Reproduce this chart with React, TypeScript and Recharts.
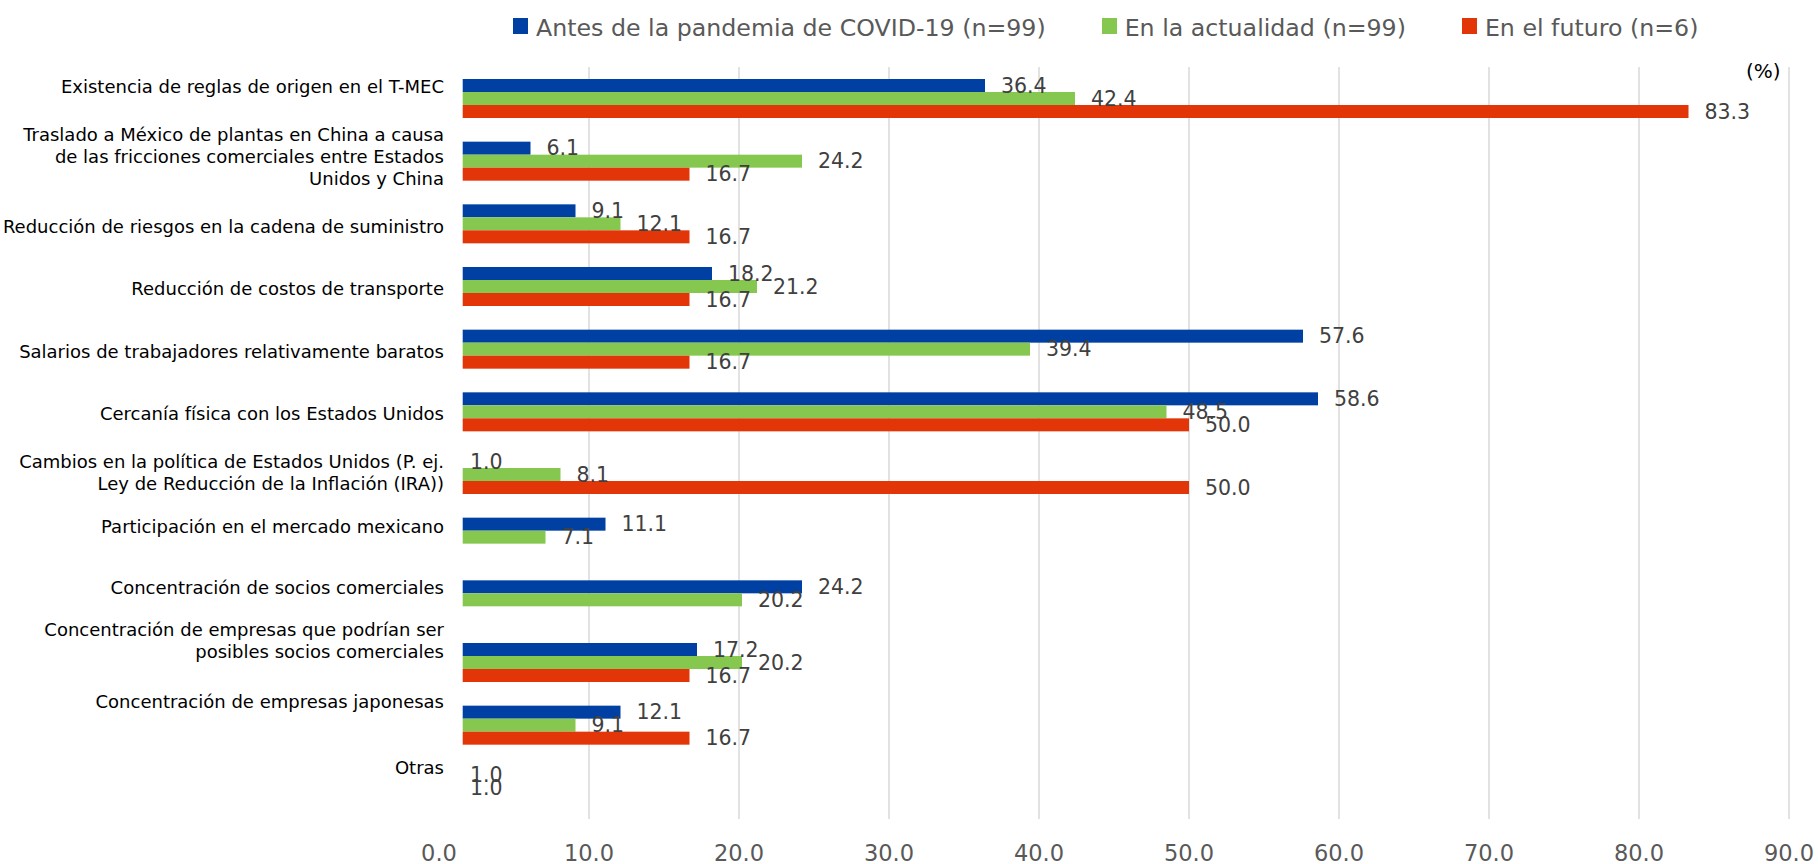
import React from 'react';
import { BarChart, Bar, XAxis, YAxis, CartesianGrid, LabelList, Legend } from 'recharts';

const FONT = '"DejaVu Sans", Verdana, sans-serif';

const categories = [
  'Existencia de reglas de origen en el T-MEC',
  'Traslado a México de plantas en China a causa\nde las fricciones comerciales entre Estados\nUnidos y China',
  'Reducción de riesgos en la cadena de suministro',
  'Reducción de costos de transporte',
  'Salarios de trabajadores relativamente baratos',
  'Cercanía física con los Estados Unidos',
  'Cambios en la política de Estados Unidos (P. ej.\nLey de Reducción de la Inflación (IRA))',
  'Participación en el mercado mexicano',
  'Concentración de socios comerciales',
  'Concentración de empresas que podrían ser\nposibles socios comerciales',
  'Concentración de empresas japonesas',
  'Otras',
];

const beforeCovid: (number | null)[] = [36.4, 6.1, 9.1, 18.2, 57.6, 58.6, 1.0, 11.1, 24.2, 17.2, 12.1, 1.0];
const currentValues: (number | null)[] = [42.4, 24.2, 12.1, 21.2, 39.4, 48.5, 8.1, 7.1, 20.2, 20.2, 9.1, 1.0];
const futureValues: (number | null)[] = [83.3, 16.7, 16.7, 16.7, 16.7, 50.0, 50.0, null, null, 16.7, 16.7, null];

const seriesNames = [
  'Antes de la pandemia de COVID-19 (n=99)',
  'En la actualidad (n=99)',
  'En el futuro (n=6)',
];
const seriesColors = ['#0040A2', '#86C84F', '#E23508'];

const xTicks = [0, 10, 20, 30, 40, 50, 60, 70, 80, 90];
const gridValues = [10, 20, 30, 40, 50, 60, 70, 80, 90];

// vertical shift (px) of each category label relative to its band centre
const LABEL_SHIFT = [-12, -4.5, 3, 2, 2.5, 2, -1.5, -11, -12, -22, -24, -20];
// bars are hidden below this value (visible start of bars in the reference)
const CLIP_VALUE = 1.58;

const data = categories.map((name, i) => ({
  name,
  before: beforeCovid[i],
  current: currentValues[i],
  future: futureValues[i],
}));

const fmt = (v: any) => (v === null || v === undefined || v === '' ? '' : Number(v).toFixed(1));

const makeShape = (key: string) => (props: any) => {
  const { x, y, width, height, fill, payload } = props;
  const v = payload ? payload[key] : null;
  if (v === null || v === undefined || !width) return <g />;
  const ppu = width / v;
  const start = x + ppu * CLIP_VALUE;
  const end = x + width;
  if (end <= start) return <g />;
  return <rect x={start} y={y} width={end - start} height={height} fill={fill} />;
};

const CategoryTick = (props: any) => {
  const { x, y, payload } = props;
  const idx = typeof props.index === 'number' ? props.index : categories.indexOf(payload.value);
  const lines = String(payload.value).split('\n');
  const lh = 21.7;
  const center = y + (LABEL_SHIFT[idx] ?? 0);
  return (
    <text x={x + 5} y={center} textAnchor="end" fontSize={18} fill="#000" fontFamily={FONT}>
      {lines.map((l, i) => (
        <tspan key={i} x={x + 5} y={center + (i - (lines.length - 1) / 2) * lh + 6.5}>
          {l}
        </tspan>
      ))}
    </text>
  );
};

const LegendContent = (props: any) => {
  const payload = [...(props.payload || [])].sort(
    (a: any, b: any) => seriesNames.indexOf(a.value) - seriesNames.indexOf(b.value)
  );
  return (
    <div style={{ position: 'relative', height: 50, width: 1818, fontFamily: FONT }}>
      <div style={{ position: 'absolute', left: 513, top: 14, display: 'flex', alignItems: 'flex-start' }}>
        {payload.map((p: any, i: number) => (
          <div key={i} style={{ display: 'flex', alignItems: 'flex-start', marginRight: 56 }}>
            <span style={{ display: 'inline-block', width: 15, height: 16, background: p.color, marginTop: 3.5, marginRight: 8 }} />
            <span style={{ fontSize: 23.7, lineHeight: '28px', color: '#595959', whiteSpace: 'nowrap' }}>{p.value}</span>
          </div>
        ))}
      </div>
    </div>
  );
};

const labelProps = { position: 'right' as const, offset: 16, formatter: fmt, fill: '#404040', fontSize: 20.5, fontFamily: FONT };

export default function App() {
  return (
    <div style={{ position: 'absolute', left: 0, top: 0, width: 1818, height: 864, background: '#fff', overflow: 'hidden', fontFamily: FONT }}>
      <BarChart
        width={1818}
        height={864}
        data={data}
        layout="vertical"
        margin={{ top: 67, right: 29, bottom: 0, left: 0 }}
        barGap={0}
      >
        <CartesianGrid horizontal={false} vertical verticalValues={gridValues} stroke="#D9D9D9" strokeWidth={1.5} />
        <XAxis
          type="number"
          domain={[0, 90]}
          ticks={xTicks}
          tickFormatter={(v: number) => v.toFixed(1)}
          axisLine={false}
          tickLine={false}
          tickSize={0}
          tickMargin={26}
          height={45}
          interval={0}
          tick={{ fill: '#595959', fontSize: 22.5, fontFamily: FONT }}
        />
        <YAxis
          type="category"
          dataKey="name"
          width={439}
          axisLine={false}
          tickLine={false}
          tickSize={0}
          tickMargin={0}
          interval={0}
          tick={<CategoryTick />}
        />
        <Legend
          layout="horizontal"
          verticalAlign="middle"
          align="center"
          itemSorter={null as any}
          wrapperStyle={{ top: 0, left: 0, width: 1818, height: 50 }}
          content={<LegendContent />}
        />
        <Bar dataKey="before" name={seriesNames[0]} fill={seriesColors[0]} barSize={13} isAnimationActive={false} shape={makeShape('before')}>
          <LabelList dataKey="before" {...labelProps} />
        </Bar>
        <Bar dataKey="current" name={seriesNames[1]} fill={seriesColors[1]} barSize={13} isAnimationActive={false} shape={makeShape('current')}>
          <LabelList dataKey="current" {...labelProps} />
        </Bar>
        <Bar dataKey="future" name={seriesNames[2]} fill={seriesColors[2]} barSize={13} isAnimationActive={false} shape={makeShape('future')}>
          <LabelList dataKey="future" {...labelProps} />
        </Bar>
      </BarChart>
      <div style={{ position: 'absolute', left: 1746, top: 59, fontSize: 20, lineHeight: 'normal', color: '#000', fontFamily: FONT }}>(%)</div>
    </div>
  );
}
